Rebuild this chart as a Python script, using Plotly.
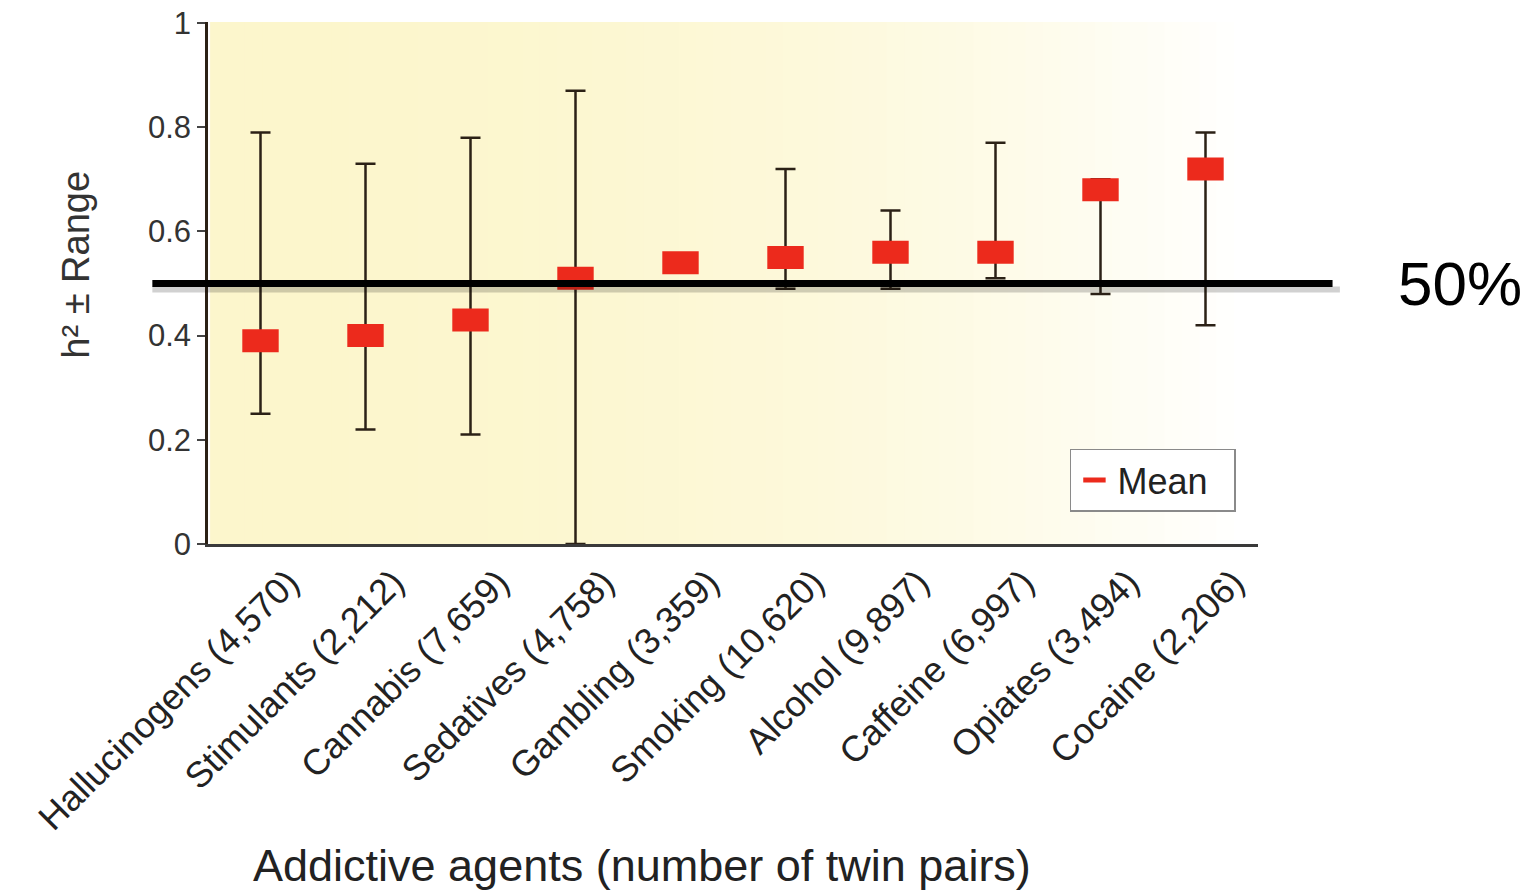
import plotly.graph_objects as go

# Heritability estimates of addictive agents (twin studies)
agents = ["Hallucinogens (4,570)", "Stimulants (2,212)", "Cannabis (7,659)",
          "Sedatives (4,758)", "Gambling (3,359)", "Smoking (10,620)",
          "Alcohol (9,897)", "Caffeine (6,997)", "Opiates (3,494)",
          "Cocaine (2,206)"]
h2_mean = [0.39, 0.40, 0.43, 0.51, 0.54, 0.55, 0.56, 0.56, 0.68, 0.72]
h2_high = [0.79, 0.73, 0.78, 0.87, 0.54, 0.72, 0.64, 0.77, 0.70, 0.79]
h2_low = [0.25, 0.22, 0.21, 0.00, 0.54, 0.49, 0.49, 0.51, 0.48, 0.42]
y_ticks = [0, 0.2, 0.4, 0.6, 0.8, 1]
y_tick_text = ["0", "0.2", "0.4", "0.6", "0.8", "1"]
threshold = 0.5

err_plus = [h - m for h, m in zip(h2_high, h2_mean)]
err_minus = [m - l for m, l in zip(h2_mean, h2_low)]

FONT = "Liberation Sans, Arial, Helvetica, sans-serif"

TOP, BOTTOM, HEIGHT = 22, 349, 893
plot_h = HEIGHT - TOP - BOTTOM

fig = go.Figure()
fig.add_trace(go.Scatter(
    x=agents, y=h2_mean, mode="markers", name="Mean",
    marker=dict(symbol="line-ew", size=26, color="#ec2a1c",
                line=dict(color="#ec2a1c", width=23)),
    error_y=dict(type="data", symmetric=False, array=err_plus,
                 arrayminus=err_minus, color="#2b2116", thickness=2.5,
                 width=10),
))

# pale yellow panel fading to white towards the right
shapes = []
n_strips = 60
x_end = 0.975
for i in range(n_strips):
    t = i / (n_strips - 1)
    f = t ** 2.2
    r = round(252 + (255 - 252) * f)
    g = round(246 + (255 - 246) * f)
    b = round(204 + (255 - 204) * f)
    shapes.append(dict(type="rect", xref="paper", yref="paper",
                       x0=0.002 + t * x_end, x1=0.002 + (i + 1.05) / (n_strips - 1) * x_end,
                       y0=0, y1=1, line=dict(width=0),
                       fillcolor=f"rgb({r},{g},{b})", layer="below"))

# 50 % reference line with a soft shadow
shapes.append(dict(type="rect", xref="paper", yref="y", ysizemode="pixel",
                   yanchor=threshold, y0=-3, y1=-9, x0=-0.053, x1=1.078,
                   line=dict(width=0), fillcolor="rgba(0,0,0,0.18)",
                   layer="above"))
shapes.append(dict(type="line", xref="paper", yref="y", x0=-0.053, x1=1.071,
                   y0=threshold, y1=threshold,
                   line=dict(color="black", width=7), layer="above"))

annotations = [
    dict(text="50%", xref="paper", yref="y", x=1.192, y=threshold,
         xanchor="center", yanchor="middle", showarrow=False,
         font=dict(size=62, color="black", family=FONT)),
    dict(text="h² ± Range", xref="paper", yref="paper", x=-0.126,
         y=(HEIGHT - BOTTOM - 265) / plot_h,
         xanchor="center", yanchor="middle", showarrow=False, textangle=-90,
         font=dict(size=38, color="#333333", family=FONT)),
    dict(text="Addictive agents (number of twin pairs)", xref="paper",
         yref="paper", x=0.413, y=-(866 - (HEIGHT - BOTTOM)) / plot_h,
         xanchor="center", yanchor="middle",
         showarrow=False, font=dict(size=45, color="#222222", family=FONT)),
]

fig.update_layout(
    width=1536, height=HEIGHT,
    margin=dict(l=208, r=278, t=TOP, b=BOTTOM),
    paper_bgcolor="white", plot_bgcolor="white",
    font=dict(family=FONT, color="#333333"),
    shapes=shapes, annotations=annotations,
    showlegend=True,
    legend=dict(orientation="h", x=0.979, y=0.062, xanchor="right",
                yanchor="bottom",
                bgcolor="white", bordercolor="#8a8a8a", borderwidth=1.5,
                itemwidth=36, entrywidth=112, entrywidthmode="pixels",
                font=dict(size=36, color="#222222", family=FONT)),
    xaxis=dict(range=[-0.5, 9.5], showgrid=False, zeroline=False,
               showline=True, linecolor="#3a3a3a", linewidth=2.5,
               automargin=False,
               ticks="", tickangle=-45, ticklabelshift=28,
               tickfont=dict(size=36, color="#222222", family=FONT)),
    yaxis=dict(range=[0, 1.002], tickvals=y_ticks, ticktext=y_tick_text,
               showgrid=False, zeroline=False, showline=True,
               automargin=False,
               linecolor="#2b2116", linewidth=2.5, ticks="outside",
               ticklen=8, tickwidth=2, tickcolor="#444444",
               tickfont=dict(size=31, color="#333333", family=FONT)),
)

fig.write_html("out.html")
